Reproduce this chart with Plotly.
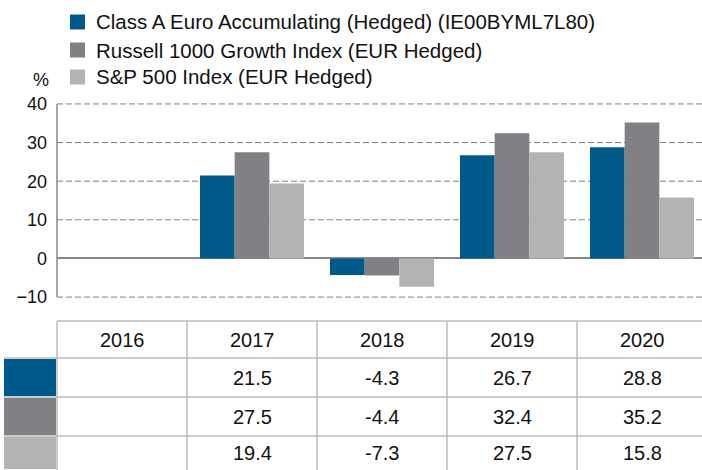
import plotly.graph_objects as go

years = ["2016", "2017", "2018", "2019", "2020"]
series_names = [
    "Class A Euro Accumulating (Hedged) (IE00BYML7L80)",
    "Russell 1000 Growth Index (EUR Hedged)",
    "S&P 500 Index (EUR Hedged)",
]
class_a = [None, 21.5, -4.3, 26.7, 28.8]
russell = [None, 27.5, -4.4, 32.4, 35.2]
sp500 = [None, 19.4, -7.3, 27.5, 15.8]
colors = ["#00598B", "#808085", "#B3B3B3"]
y_ticks = [-10, 0, 10, 20, 30, 40]

all_series = [class_a, russell, sp500]

W, H = 702, 470
ML, MR, MT, MB = 57, 0, 102, 171
PW, PH = W - ML - MR, H - MT - MB
COLW = 130
FONT = "Liberation Sans, Arial, sans-serif"


def px_x(p):
    return (p - ML) / PW


def px_y(p):
    return (H - MB - p) / PH


fig = go.Figure()
for name, vals, col in zip(series_names, all_series, colors):
    fig.add_trace(go.Bar(x=years, y=vals, name=name, marker_color=col,
                         marker_line_width=0, showlegend=False))

shapes = []
annotations = []

# dashed gridlines (drawn below the bars)
for t in y_ticks:
    if t == 0:
        continue
    shapes.append(dict(type="line", xref="paper", yref="y", x0=0, x1=1, y0=t, y1=t,
                       layer="below", line=dict(color="#808080", width=1, dash="6px,3px")))

# legend (manual)
legend_rows = [22, 50, 77]
for name, col, cy in zip(series_names, colors, legend_rows):
    shapes.append(dict(type="rect", xref="paper", yref="paper",
                       x0=px_x(70), x1=px_x(85), y0=px_y(cy - 7.5), y1=px_y(cy + 7.5),
                       fillcolor=col, line_width=0))
    annotations.append(dict(xref="paper", yref="paper", x=px_x(94), y=px_y(cy),
                            text=name, showarrow=False, xanchor="left", yanchor="middle",
                            font=dict(size=20.5, color="#111", family=FONT)))
annotations.append(dict(xref="paper", yref="paper", x=px_x(41), y=px_y(80), text="%",
                        showarrow=False, xanchor="center", yanchor="middle",
                        font=dict(size=18, color="#111", family=FONT)))

# table
line_col = "#BDBDBD"
t_top, row_lines, t_bot = 321, [358, 397, 436], 470
shapes.append(dict(type="line", xref="paper", yref="paper", x0=0, x1=1,
                   y0=px_y(t_top), y1=px_y(t_top), line=dict(color=line_col, width=1.5)))
for rl in row_lines:
    shapes.append(dict(type="line", xref="paper", yref="paper", x0=px_x(4), x1=1,
                       y0=px_y(rl), y1=px_y(rl), line=dict(color=line_col, width=1.5)))
col_centers = [px_x(ML + COLW * (i + 0.5)) for i in range(len(years))]
for i in range(len(years)):
    xl = px_x(ML + COLW * i)
    shapes.append(dict(type="line", xref="paper", yref="paper", x0=xl, x1=xl,
                       y0=px_y(t_top), y1=px_y(t_bot), line=dict(color=line_col, width=1.5)))
# header
for yr, cx in zip(years, col_centers):
    annotations.append(dict(xref="paper", yref="paper", x=cx, y=px_y((t_top + row_lines[0]) / 2),
                            text=yr, showarrow=False, xanchor="center", yanchor="middle",
                            font=dict(size=20, color="#111", family=FONT)))
row_bounds = [(row_lines[0], row_lines[1]), (row_lines[1], row_lines[2]), (row_lines[2], t_bot)]
for vals, col, (r0, r1) in zip(all_series, colors, row_bounds):
    shapes.append(dict(type="rect", xref="paper", yref="paper", x0=px_x(4), x1=px_x(56),
                       y0=px_y(r0 + 1), y1=px_y(r1 - 1), fillcolor=col, line_width=0))
    for cx, v in zip(col_centers, vals):
        if v is None:
            continue
        annotations.append(dict(xref="paper", yref="paper", x=cx, y=px_y((r0 + r1) / 2),
                                text=f"{v:.1f}", showarrow=False, xanchor="center",
                                yanchor="middle", font=dict(size=20, color="#111", family=FONT)))

# left axis line (from -10 to 40)
shapes.append(dict(type="line", xref="paper", yref="y", x0=0, x1=0,
                   y0=min(y_ticks), y1=max(y_ticks),
                   line=dict(color="#888888", width=1.5)))

fig.update_layout(
    width=W, height=H,
    margin=dict(l=ML, r=MR, t=MT, b=MB, pad=0),
    paper_bgcolor="white", plot_bgcolor="white",
    barmode="group", bargap=0.2, bargroupgap=0,
    font=dict(family=FONT, size=18, color="#111"),
    shapes=shapes, annotations=annotations,
    xaxis=dict(type="category", range=[-0.5, -0.5 + PW / COLW], showticklabels=False,
               showgrid=False, zeroline=False, showline=False, ticks=""),
    yaxis=dict(range=[-10.5, 40.5], tickvals=y_ticks, showgrid=False,
               zeroline=True, zerolinecolor="#888888",
               zerolinewidth=1.5, showline=False, ticks="", ticklabelstandoff=9,
               tickfont=dict(size=18, color="#111", family=FONT)),
)

fig.write_html("out.html")
